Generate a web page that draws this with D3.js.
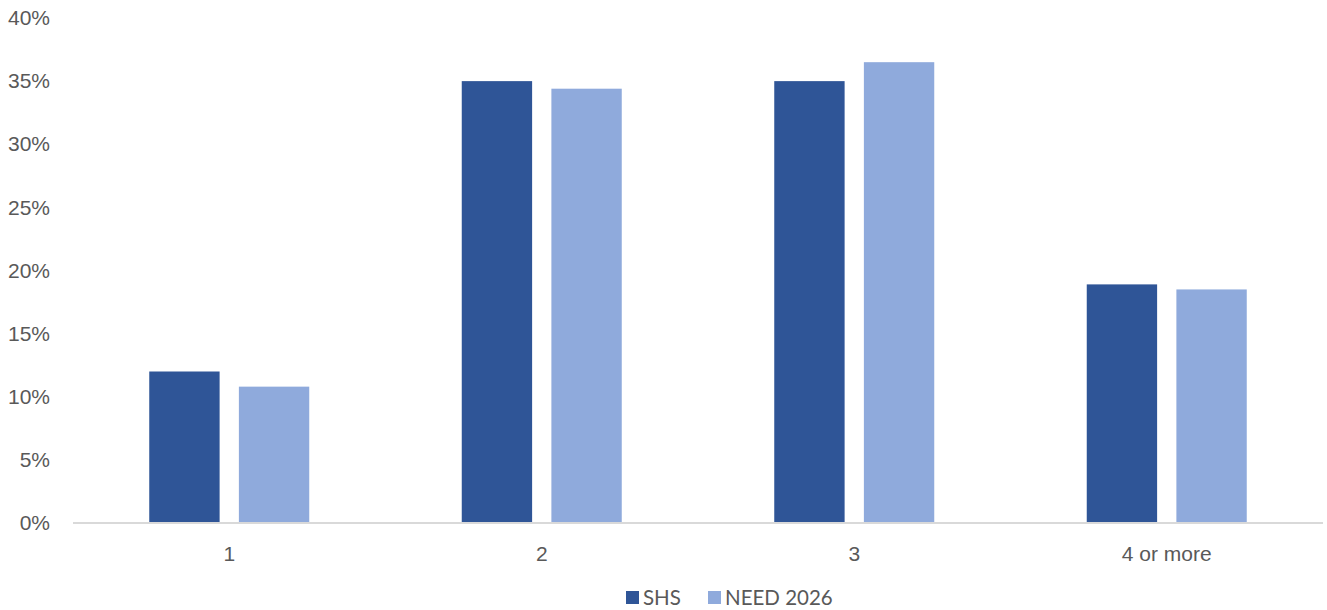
<!DOCTYPE html>
<html>
<head>
<meta charset="utf-8">
<script src="https://cdn.jsdelivr.net/npm/d3@7"></script>
<style>
  html, body { margin: 0; padding: 0; background: #fff; }
  svg { display: block; font-family: Lato, "Open Sans", sans-serif; }
</style>
</head>
<body>
<svg id="chart" width="1327" height="610"></svg>
<script>
// Share of households by number of occupants
const categories = ["1", "2", "3", "4 or more"];
const seriesNames = ["SHS", "NEED 2026"];
const shsValues = [12.0, 35.0, 35.0, 18.9];
const needValues = [10.8, 34.4, 36.5, 18.5];
const yTicks = [0, 5, 10, 15, 20, 25, 30, 35, 40];
const colors = ["#2F5597", "#8FAADC"];

const svg = d3.select("#chart");
const margin = { left: 73, right: 4, top: 18, bottom: 87 };
const width = 1327, height = 610;

const x = d3.scaleBand().domain(categories)
  .range([margin.left, width - margin.right])
  .paddingInner(0.488).paddingOuter(0.244);
const xs = d3.scaleBand().domain(seriesNames).range([0, x.bandwidth()]).paddingInner(0.215);
const y = d3.scaleLinear().domain([0, 40]).range([height - margin.bottom, margin.top]);

const rows = categories.map((c, i) => ({ cat: c, vals: [shsValues[i], needValues[i]] }));

// bars
const groups = svg.append("g").selectAll("g").data(rows).join("g")
  .attr("transform", d => `translate(${x(d.cat)},0)`);
groups.selectAll("rect").data(d => d.vals.map((v, j) => ({ v, s: seriesNames[j], j })))
  .join("rect")
  .attr("x", d => xs(d.s))
  .attr("width", xs.bandwidth())
  .attr("y", d => y(d.v))
  .attr("height", d => y(0) - y(d.v))
  .attr("fill", d => colors[d.j]);

// y axis (labels only)
const yAxis = svg.append("g")
  .attr("transform", `translate(${margin.left - 23},0)`)
  .call(d3.axisLeft(y).tickValues(yTicks).tickFormat(d => d + "%").tickSize(0).tickPadding(0));
yAxis.select(".domain").remove();
yAxis.selectAll("text").attr("fill", "#595959").style("font-size", "21px");

// x axis baseline and labels
const xAxis = svg.append("g")
  .attr("transform", `translate(0,${y(0)})`)
  .call(d3.axisBottom(x).tickSize(0).tickPadding(23));
xAxis.select(".domain").attr("stroke", "#D9D9D9").attr("stroke-width", 2)
  .attr("d", `M${margin.left},0H${width - margin.right}`);
xAxis.selectAll("text").attr("fill", "#595959").style("font-size", "21px");

// legend
const legend = svg.append("g").attr("transform", "translate(626,597)");
const items = [{ name: seriesNames[0], x: 0 }, { name: seriesNames[1], x: 82 }];
items.forEach((it, j) => {
  legend.append("rect").attr("x", it.x).attr("y", -6).attr("width", 13).attr("height", 13)
    .attr("fill", colors[j]);
  legend.append("text").attr("x", it.x + 17).attr("y", 1).attr("dy", "0.35em")
    .attr("fill", "#595959").style("font-size", "20.5px").text(it.name);
});
</script>
</body>
</html>
